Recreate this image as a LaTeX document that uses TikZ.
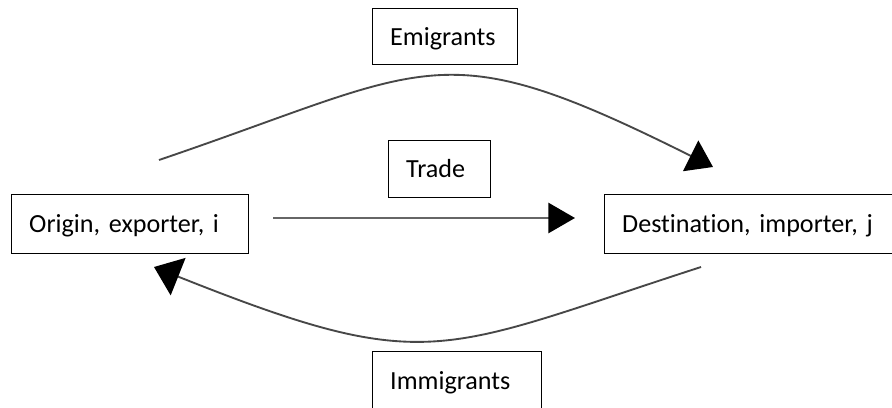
\documentclass[tikz,border=0pt]{standalone}
\usepackage{fontspec}
\setmainfont{Carlito}[Ligatures={NoCommon}]
\usetikzlibrary{arrows.meta}
\newcommand\myboxfont{\fontsize{19.6}{23}\selectfont\spaceskip=3.7pt\relax}
\begin{document}
\frenchspacing
\begin{tikzpicture}[x=0.75pt,y=-0.75pt,
  box/.style={draw=black, line width=1.1pt, fill=white, align=left, anchor=north west,
    inner xsep=13.1pt, inner ysep=0pt, text height=12.6pt, text depth=0pt,
    font=\myboxfont},
  flow/.style={draw=black!72, line width=1.4pt},
  tipA/.style={-{Triangle[length=18.75pt,width=25.5pt,color=black]}},
  tipB/.style={-{Triangle[length=19.5pt,width=30pt,color=black]}},
  tipC/.style={-{Triangle[length=20pt,width=22.5pt,color=black]}},
]
\useasboundingbox (0,0) rectangle (892,407);
\clip (0,0) rectangle (892,407);
\fill[white] (0,0) rectangle (892,407);

\node[box, text width=151.5pt, minimum height=44.25pt] (origin) at (11,194) {\mbox{Origin, exporter, i}};
\node[box, text width=195.8pt, minimum height=44.25pt] (dest) at (604,194) {\mbox{Destination, importer, j}};
\node[box, text width=50.3pt, minimum height=42.75pt] (trade) at (388,140) {\mbox{Trade}};
\node[box, text width=82.55pt, minimum height=42pt] (emig) at (372,8) {\mbox{Emigrants}};
\node[box, text width=100.55pt, minimum height=44.25pt] (immig) at (372,351) {\mbox{Immigrants}};

\coordinate (emS) at (159,160);
\coordinate (emE) at (713,167);
\coordinate (imS) at (701,267);
\coordinate (imE) at (154,267);
\coordinate (trS) at (273,218);
\coordinate (trE) at (575,218);

\draw[flow, tipA] (emS) .. controls (434,66.5) and (438,29.5) .. (emE);
\draw[flow, tipB] (imS) .. controls (438,352) and (430,377) .. (imE);
\draw[flow, line width=2.2pt, draw=black!60, tipC] (trS) -- (trE);
\end{tikzpicture}
\end{document}
